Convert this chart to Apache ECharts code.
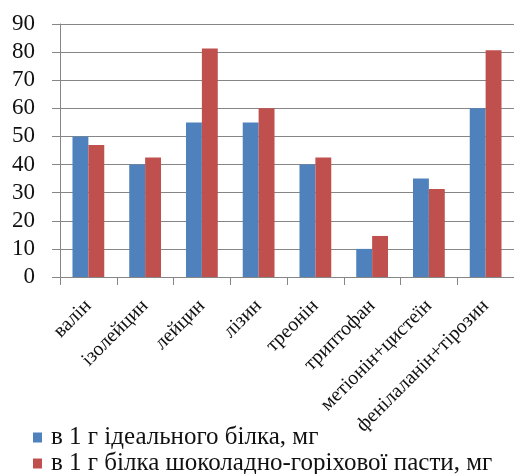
<!DOCTYPE html>
<html>
<head>
<meta charset="utf-8">
<script src="https://cdn.jsdelivr.net/npm/echarts@6/dist/echarts.min.js"></script>
<style>
  html, body { margin: 0; padding: 0; background: #fff; }
  #chart { width: 514px; height: 474px; }
</style>
</head>
<body>
<div id="chart"></div>
<script>
// Amino acid content: ideal protein vs chocolate-nut paste protein
const categories = ['валін', 'ізолейцин', 'лейцин', 'лізин', 'треонін', 'триптофан', 'метіонін+цистеїн', 'фенілаланін+тірозин'];
const idealProtein = [50, 40, 55, 55, 40, 10, 35, 60];
const pasteProtein = [47, 42.5, 81.3, 60, 42.5, 14.6, 31.3, 80.7];
const seriesNames = ['в 1 г ідеального білка, мг', 'в 1 г білка шоколадно-горіхової пасти, мг'];

const serif = '"Liberation Serif", "Times New Roman", serif';
const textColor = '#111111';
const axisGray = '#868686';
const chart = echarts.init(document.getElementById('chart'));

// one legend block per series, stacked vertically
function legendRow(name, top) {
  return {
    left: 33,
    top: top,
    padding: 0,
    orient: 'vertical',
    itemWidth: 9,
    itemHeight: 10,
    icon: 'rect',
    textStyle: { fontFamily: serif, fontSize: 25, color: textColor, padding: [0, 0, 0, 4] },
    data: [name]
  };
}

chart.setOption({
  animation: false,
  backgroundColor: '#ffffff',
  color: ['#4F81BD', '#C0504D'],
  grid: { left: 60, right: -3, top: 24, bottom: 197, containLabel: false },
  legend: [legendRow(seriesNames[0], 425), legendRow(seriesNames[1], 451)],
  xAxis: {
    type: 'category',
    data: categories,
    boundaryGap: true,
    axisLine: { lineStyle: { color: axisGray, width: 1 } },
    axisTick: { show: true, length: 8, lineStyle: { color: axisGray } },
    axisLabel: {
      rotate: 45, interval: 0, margin: 26,
      fontFamily: serif, fontSize: 20, color: textColor
    }
  },
  yAxis: {
    type: 'value',
    min: 0,
    max: 90,
    interval: 10,
    axisLine: { show: true, lineStyle: { color: axisGray, width: 1 } },
    axisTick: { show: true, length: 8, lineStyle: { color: axisGray } },
    splitLine: { lineStyle: { color: axisGray, width: 1 } },
    axisLabel: { margin: 25, fontFamily: serif, fontSize: 23, color: textColor }
  },
  series: [
    {
      name: seriesNames[0],
      type: 'bar',
      data: idealProtein,
      barGap: '0%',
      barCategoryGap: '44%'
    },
    {
      name: seriesNames[1],
      type: 'bar',
      data: pasteProtein,
      barGap: '0%',
      barCategoryGap: '44%'
    }
  ]
});
</script>
</body>
</html>
